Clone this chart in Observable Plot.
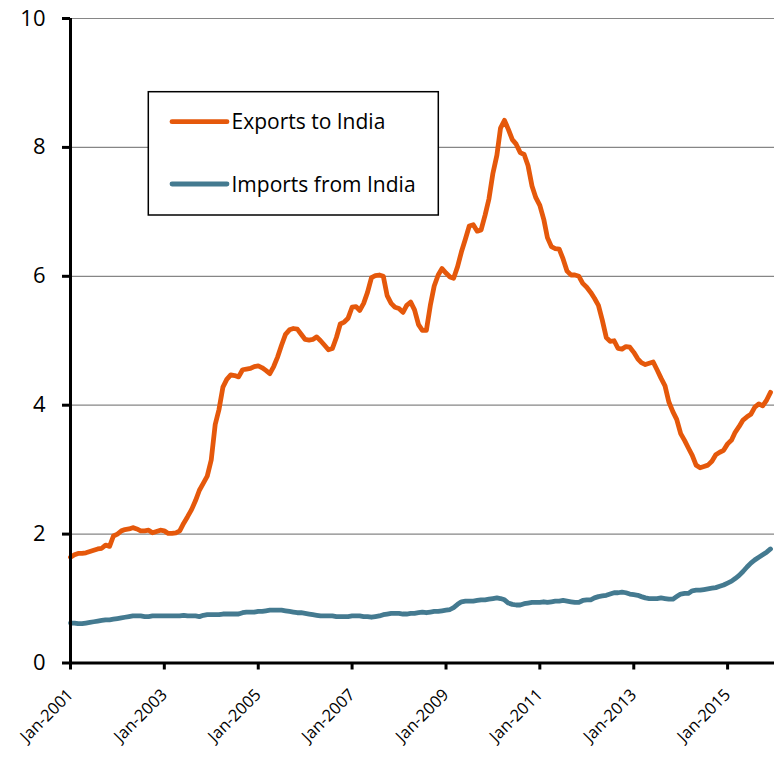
<!DOCTYPE html>
<html>
<head>
<meta charset="utf-8">
<script src="https://cdn.jsdelivr.net/npm/d3@7"></script>
<script src="https://cdn.jsdelivr.net/npm/@observablehq/plot@0.6"></script>
<style>
  html, body { margin: 0; padding: 0; background: white; }
  #wrap { position: relative; width: 778px; height: 759px; overflow: hidden; font-family: "Open Sans", sans-serif; }
  #legend { position: absolute; left: 0; top: 0; }
</style>
</head>
<body>
<div id="wrap"></div>
<script>
// ---- Data (monthly, Jan-2001 .. Dec-2015) ----
const startYear = 2001;
const seriesNames = ["Exports to India", "Imports from India"];
const seriesColors = ["#E5580B", "#447A90"];

const exportsToIndia = [
  1.64,1.68,1.70,1.70,1.71,1.73,1.75,1.77,1.78,1.83,1.81,1.97,
  2.00,2.05,2.07,2.08,2.10,2.08,2.05,2.05,2.06,2.02,2.04,2.06,
  2.05,2.01,2.01,2.02,2.05,2.17,2.27,2.38,2.52,2.68,2.79,2.90,
  3.15,3.70,3.93,4.28,4.40,4.47,4.46,4.44,4.55,4.56,4.57,4.60,
  4.61,4.58,4.54,4.49,4.60,4.75,4.93,5.10,5.17,5.19,5.18,5.10,
  5.02,5.01,5.02,5.06,5.00,4.93,4.86,4.88,5.05,5.26,5.29,5.35,
  5.52,5.53,5.47,5.58,5.75,5.98,6.01,6.02,6.00,5.70,5.58,5.52,
  5.50,5.44,5.55,5.60,5.48,5.25,5.16,5.16,5.55,5.85,6.02,6.12,
  6.05,5.99,5.97,6.15,6.38,6.58,6.78,6.80,6.70,6.72,6.95,7.20,
  7.60,7.88,8.30,8.42,8.28,8.12,8.05,7.92,7.89,7.72,7.40,7.22,
  7.10,6.88,6.60,6.46,6.43,6.42,6.27,6.08,6.02,6.02,6.00,5.89,
  5.83,5.75,5.66,5.55,5.32,5.05,4.99,5.00,4.88,4.87,4.91,4.90,
  4.82,4.72,4.66,4.63,4.65,4.67,4.55,4.42,4.30,4.05,3.90,3.78,
  3.56,3.45,3.34,3.22,3.07,3.03,3.05,3.07,3.13,3.23,3.27,3.30,
  3.40,3.46,3.58,3.67,3.77,3.82,3.86,3.97,4.02,3.99,4.08,4.20
];

const importsFromIndia = [
  0.62,0.62,0.61,0.61,0.62,0.63,0.64,0.65,0.66,0.67,0.67,0.68,
  0.69,0.70,0.71,0.72,0.73,0.73,0.73,0.72,0.72,0.73,0.73,0.73,
  0.73,0.73,0.73,0.73,0.73,0.74,0.73,0.73,0.73,0.72,0.74,0.75,
  0.75,0.75,0.75,0.76,0.76,0.76,0.76,0.76,0.78,0.79,0.79,0.79,
  0.80,0.80,0.81,0.82,0.82,0.82,0.82,0.81,0.80,0.79,0.78,0.78,
  0.77,0.76,0.75,0.74,0.73,0.73,0.73,0.73,0.72,0.72,0.72,0.72,
  0.73,0.73,0.73,0.72,0.72,0.71,0.72,0.73,0.75,0.76,0.77,0.77,
  0.77,0.76,0.76,0.77,0.77,0.78,0.79,0.78,0.79,0.80,0.80,0.81,
  0.82,0.83,0.86,0.91,0.95,0.96,0.96,0.96,0.97,0.98,0.98,0.99,
  1.00,1.01,1.00,0.98,0.93,0.91,0.90,0.90,0.92,0.93,0.94,0.94,
  0.94,0.95,0.94,0.95,0.96,0.96,0.97,0.96,0.95,0.94,0.94,0.97,
  0.98,0.98,1.01,1.03,1.04,1.05,1.07,1.09,1.09,1.10,1.09,1.07,
  1.06,1.05,1.03,1.01,1.00,1.00,1.00,1.01,1.00,0.99,0.99,1.03,
  1.07,1.08,1.08,1.12,1.13,1.13,1.14,1.15,1.16,1.17,1.19,1.21,
  1.24,1.27,1.31,1.36,1.42,1.49,1.55,1.60,1.64,1.68,1.72,1.77
];

const yTicks = [0, 2, 4, 6, 8, 10];
const xTickYears = [2001, 2003, 2005, 2007, 2009, 2011, 2013, 2015];
const xEndYear = 2016;

// ---- Build table ----
const monthDate = (i) => new Date(Date.UTC(startYear, i, 1));
const rows = [];
[exportsToIndia, importsFromIndia].forEach((arr, s) => {
  arr.forEach((v, i) => rows.push({ series: seriesNames[s], date: monthDate(i), value: v }));
});
const xTicks = xTickYears.map(y => new Date(Date.UTC(y, 0, 1)));
const fmt = d3.utcFormat("%b-%Y");
const x0 = monthDate(0);

const chart = Plot.plot({
  width: 778,
  height: 759,
  marginLeft: 70,
  marginRight: 4,
  marginTop: 18,
  marginBottom: 96.5,
  style: { fontFamily: "Open Sans, sans-serif", fontSize: "22px", background: "white", color: "black", overflow: "visible" },
  x: { type: "utc", domain: [x0, new Date(Date.UTC(xEndYear, 0, 1))], label: null, axis: null },
  y: { domain: [0, 10], label: null, axis: null },
  color: { domain: seriesNames, range: seriesColors },
  marks: [
    Plot.gridY(yTicks.filter(d => d > 0), { stroke: "#868686", strokeOpacity: 1, strokeWidth: 1.2 }),
    Plot.lineY(rows, {
      x: "date", y: "value", z: "series", stroke: "series",
      strokeWidth: 4.8, strokeLinejoin: "round", strokeLinecap: "round"
    }),
    Plot.ruleY([0], { stroke: "black", strokeWidth: 3 }),
    Plot.ruleX([x0], { stroke: "black", strokeWidth: 3 }),
    // tick marks only (labels drawn by text marks below)
    Plot.axisY(yTicks, { tickSize: 8, strokeWidth: 3, stroke: "black", fill: "none", label: null }),
    Plot.axisX(xTicks, { tickSize: 7, strokeWidth: 3, stroke: "black", fill: "none", label: null }),
    // tick labels
    Plot.text(yTicks, {
      x: () => x0, y: d => d, text: d => String(d),
      textAnchor: "end", dx: -25, fontSize: 22, fill: "black"
    }),
    Plot.text(xTicks, {
      x: d => d, y: () => 0, text: d => fmt(d),
      rotate: -45, textAnchor: "end", lineAnchor: "middle",
      dy: 29, fontSize: 16.5, fill: "black"
    })
  ]
});

const wrap = document.getElementById("wrap");
wrap.appendChild(chart);

// ---- Legend (inside plot area, top-left) ----
const ns = "http://www.w3.org/2000/svg";
const leg = document.createElementNS(ns, "svg");
leg.setAttribute("id", "legend");
leg.setAttribute("width", 778);
leg.setAttribute("height", 759);
leg.style.pointerEvents = "none";
const box = document.createElementNS(ns, "rect");
box.setAttribute("x", 148.3); box.setAttribute("y", 91.7);
box.setAttribute("width", 290); box.setAttribute("height", 123.3);
box.setAttribute("fill", "white"); box.setAttribute("stroke", "black"); box.setAttribute("stroke-width", 1.5);
leg.appendChild(box);
const rowsY = [121.7, 184];
seriesNames.forEach((name, i) => {
  const ln = document.createElementNS(ns, "line");
  ln.setAttribute("x1", 172); ln.setAttribute("x2", 227);
  ln.setAttribute("y1", rowsY[i]); ln.setAttribute("y2", rowsY[i]);
  ln.setAttribute("stroke", seriesColors[i]); ln.setAttribute("stroke-width", 4.8);
  ln.setAttribute("stroke-linecap", "round");
  leg.appendChild(ln);
  const t = document.createElementNS(ns, "text");
  t.setAttribute("x", 231.5); t.setAttribute("y", rowsY[i]);
  t.setAttribute("dy", "0.36em");
  t.setAttribute("font-size", 21);
  t.setAttribute("font-family", "Open Sans, sans-serif");
  t.setAttribute("fill", "black");
  t.textContent = name;
  leg.appendChild(t);
});
wrap.appendChild(leg);
</script>
</body>
</html>
